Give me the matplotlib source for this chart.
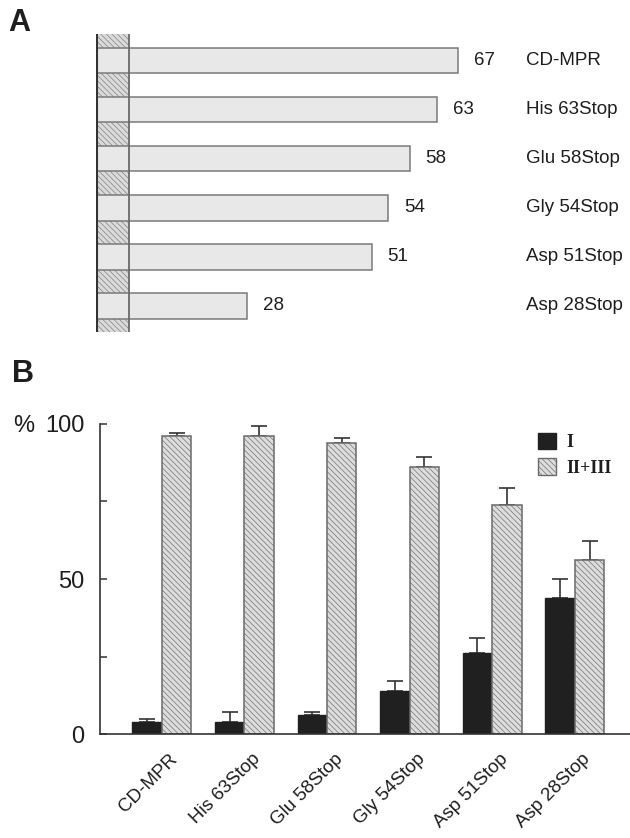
#! /usr/bin/env python

'''
Two panels: residue lengths of the CD-MPR tail mutants (A) and
the percentage of receptor in peak I and II+III (B).
'''

import numpy as np
import matplotlib
matplotlib.use('Agg')
import matplotlib.pyplot as plt
import matplotlib.transforms as mtransforms
from matplotlib.patches import Patch

constructs = ['CD-MPR', 'His 63Stop', 'Glu 58Stop', 'Gly 54Stop',
              'Asp 51Stop', 'Asp 28Stop']
tail_length = [67, 63, 58, 54, 51, 28]

peak_i = [4, 4, 6, 14, 26, 44]
peak_i_err = [1, 3, 1, 3, 5, 6]
peak_ii_iii = [96, 96, 94, 86, 74, 56]
peak_ii_iii_err = [1.2, 3.5, 1.4, 3.4, 5.4, 6.2]

TEXT = '#1e1e1e'
W, H = 630, 838

plt.rcParams['font.family'] = ['Liberation Sans', 'DejaVu Sans']
plt.rcParams['hatch.linewidth'] = 0.45
plt.rcParams['text.color'] = TEXT

fig = plt.figure(figsize=(W / 100, H / 100), dpi=100)


def px_axes(left, top, right, bottom):
    '''
    Axes placed by pixel edges.
    '''
    return fig.add_axes([left / W, 1 - bottom / H, (right - left) / W,
                         (bottom - top) / H])


# panel A
ax = px_axes(96, 34, 630, 332)
px_per_res = 5.41
ax.set_xlim(0, 534 / px_per_res)
ax.set_ylim(5.53, -0.54)
ax.axis('off')

membrane = 33 / px_per_res
ax.axvspan(0, membrane, facecolor='#dadada', edgecolor='#7a7a7a',
           hatch='\\\\\\\\\\\\', lw=0, zorder=1)
y = np.arange(len(constructs))
ax.barh(y, tail_length, height=0.52, color='#e8e8e8', edgecolor='#7a7a7a',
        lw=1.1, zorder=2)
ax.axvline(0, color='#333333', lw=2.2, zorder=4)
ax.axvline(membrane, color='#6a6a6a', lw=1.3, zorder=4)
for i, n in enumerate(tail_length):
    ax.text(n + 2.9, i, str(n), va='center', ha='left', fontsize=13.5)
    ax.text(79.5, i, constructs[i], va='center', ha='left', fontsize=13.5)

fig.text(8 / W, 1 - 23 / H, 'A', fontsize=22, fontweight='bold',
         va='center', ha='left')
fig.text(12 / W, 1 - 374 / H, 'B', fontsize=22, fontweight='bold',
         va='center', ha='left')

# panel B
ax2 = px_axes(100, 424, 630, 734)
x = np.arange(len(constructs))
w = 0.357
ax2.errorbar(x - w / 2, peak_i, yerr=[np.zeros(6), peak_i_err], fmt='none',
             ecolor='#333333', elinewidth=1.2, capsize=6, capthick=1.2,
             zorder=1)
ax2.errorbar(x + w / 2, peak_ii_iii, yerr=[np.zeros(6), peak_ii_iii_err],
             fmt='none', ecolor='#333333', elinewidth=1.2, capsize=6,
             capthick=1.2, zorder=1)
ax2.bar(x - w / 2, peak_i, width=w, color='#202020', edgecolor='#202020',
        lw=1, zorder=2, label='I')
ax2.bar(x + w / 2, peak_ii_iii, width=w, color='#dcdcdc', edgecolor='#6a6a6a',
        hatch='\\\\\\\\\\\\', lw=1.1, zorder=2, label='II+III')

ax2.set_xlim(-0.748, 5.668)
ax2.set_ylim(0, 100)
for side in ['top', 'right']:
    ax2.spines[side].set_visible(False)
for side in ['left', 'bottom']:
    ax2.spines[side].set_color('#333333')
    ax2.spines[side].set_linewidth(1.2)

ax2.set_yticks([0, 50, 100])
ax2.set_yticks([25, 75], minor=True)
ax2.tick_params(axis='y', which='both', direction='in', length=5,
                width=1.1, color='#333333')
ax2.tick_params(axis='y', labelsize=17, pad=11, labelcolor=TEXT)
ax2.set_xticks(x)
ax2.set_xticklabels(constructs, rotation=45, ha='right', va='top',
                    rotation_mode='anchor', fontsize=13.5)
ax2.tick_params(axis='x', length=0, pad=12, labelcolor=TEXT)
offset = mtransforms.ScaledTranslation(0.07, 0, fig.dpi_scale_trans)
for lab in ax2.get_xticklabels():
    lab.set_transform(lab.get_transform() + offset)

fig.text(13 / W, 1 - 426 / H, '%', fontsize=17, va='center', ha='left')

handles = [Patch(facecolor='#202020', edgecolor='#202020', label='I'),
           Patch(facecolor='#dcdcdc', edgecolor='#6a6a6a',
                 hatch='\\\\\\\\\\\\', label='II+III')]
ax2.legend(handles=handles, loc='upper left',
           bbox_to_anchor=(538 / W, 1 - 433 / H),
           bbox_transform=fig.transFigure, frameon=False, borderpad=0,
           borderaxespad=0, handlelength=1.0, handleheight=1.0,
           handletextpad=0.55, labelspacing=0.4,
           prop={'family': 'Liberation Serif', 'weight': 'bold',
                 'size': 13})

fig.savefig('out.png', dpi=100, facecolor='white')
